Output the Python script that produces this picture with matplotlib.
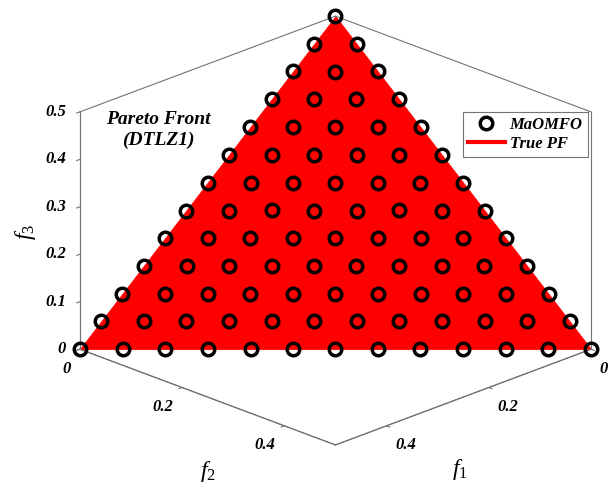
import matplotlib
matplotlib.use("Agg")
import matplotlib.pyplot as plt
from matplotlib.lines import Line2D
from mpl_toolkits.mplot3d.art3d import Poly3DCollection

plt.rcParams['font.family'] = ['Liberation Serif', 'DejaVu Serif']
plt.rcParams['mathtext.fontset'] = 'custom'
plt.rcParams['mathtext.rm'] = 'Liberation Serif'
plt.rcParams['mathtext.it'] = 'Liberation Serif:italic'

# MaOMFO final population on DTLZ1, one line per f3 level
mao_f1 = [0.5, 0.458, 0.417, 0.375, 0.333, 0.292, 0.25, 0.208, 0.167, 0.125, 0.083, 0.042, 0.0,
          0.458, 0.417, 0.375, 0.333, 0.292, 0.25, 0.208, 0.167, 0.125, 0.083, 0.042, 0.0,
          0.417, 0.375, 0.333, 0.292, 0.25, 0.208, 0.167, 0.125, 0.083, 0.042, 0.0,
          0.375, 0.333, 0.292, 0.25, 0.208, 0.167, 0.125, 0.083, 0.042, 0.0,
          0.333, 0.292, 0.25, 0.208, 0.167, 0.125, 0.083, 0.042, 0.0,
          0.292, 0.25, 0.208, 0.167, 0.125, 0.083, 0.042, 0.0,
          0.25, 0.208, 0.167, 0.125, 0.083, 0.042, 0.0,
          0.208, 0.167, 0.125, 0.083, 0.042, 0.0,
          0.167, 0.125, 0.083, 0.042, 0.0,
          0.125, 0.083, 0.042, 0.0,
          0.083, 0.042, 0.0,
          0.042, 0.0,
          0.0]
mao_f2 = [0.0, 0.042, 0.083, 0.125, 0.167, 0.208, 0.25, 0.292, 0.333, 0.375, 0.417, 0.458, 0.5,
          0.0, 0.042, 0.083, 0.125, 0.167, 0.208, 0.25, 0.292, 0.333, 0.375, 0.417, 0.458,
          0.0, 0.042, 0.083, 0.125, 0.167, 0.208, 0.25, 0.292, 0.333, 0.375, 0.417,
          0.0, 0.042, 0.083, 0.125, 0.167, 0.208, 0.25, 0.292, 0.333, 0.375,
          0.0, 0.042, 0.083, 0.125, 0.167, 0.208, 0.25, 0.292, 0.333,
          0.0, 0.042, 0.083, 0.125, 0.167, 0.208, 0.25, 0.292,
          0.0, 0.042, 0.083, 0.125, 0.167, 0.208, 0.25,
          0.0, 0.042, 0.083, 0.125, 0.167, 0.208,
          0.0, 0.042, 0.083, 0.125, 0.167,
          0.0, 0.042, 0.083, 0.125,
          0.0, 0.042, 0.083,
          0.0, 0.042,
          0.0]
mao_f3 = ([0.0] * 13 + [0.042] * 12 + [0.083] * 11 + [0.125] * 10 + [0.167] * 9
          + [0.208] * 8 + [0.25] * 7 + [0.292] * 6 + [0.333] * 5 + [0.375] * 4
          + [0.417] * 3 + [0.458] * 2 + [0.5] * 1)

# corners of the true Pareto front (f1 + f2 + f3 = 0.5)
pf_f1 = [0.5, 0.0, 0.0]
pf_f2 = [0.0, 0.5, 0.0]
pf_f3 = [0.0, 0.0, 0.5]

lim = 0.5
xy_ticks = [0, 0.2, 0.4]
z_ticks = [0, 0.1, 0.2, 0.3, 0.4, 0.5]

fig = plt.figure(figsize=(6.11, 4.93), dpi=100)
# oversized square axes so the 3d artists are not clipped at the box edge
ax = fig.add_subplot(projection='3d', proj_type='ortho', computed_zorder=False)
ax.set_position([-0.0393, -0.1968, 1.1457, 1.4199])
ax.view_init(elev=22, azim=45)
ax.set_box_aspect((1, 1, 0.7076), zoom=0.793)

tri = Poly3DCollection([list(zip(pf_f1, pf_f2, pf_f3))], facecolor='#ff0000',
                       edgecolor='#ff0000', linewidth=0.5, zorder=1)
ax.add_collection3d(tri)

# back edges of the box (the hexagon outline)
edge = dict(color='0.45', lw=0.8, zorder=2)
ax.plot([lim, lim], [0, 0], [0, lim], **edge)
ax.plot([lim, 0], [0, 0], [lim, lim], **edge)
ax.plot([0, 0], [0, lim], [lim, lim], **edge)
ax.plot([0, 0], [lim, lim], [lim, 0], **edge)
ax.plot([0, lim], [lim, lim], [0, 0], **edge)
ax.plot([lim, lim], [lim, 0], [0, 0], **edge)

ax.plot(mao_f1, mao_f2, mao_f3, linestyle='none', marker='o', ms=9, mew=2.5,
        mfc='none', mec='k', zorder=3)

ax.set_xlim(0, lim)
ax.set_ylim(0, lim)
ax.set_zlim(0, lim)
ax.set_xticks(xy_ticks)
ax.set_yticks(xy_ticks)
ax.set_zticks(z_ticks)
ax.set_xticklabels(['0', '0.2', '0.4'])
ax.set_yticklabels(['0', '0.2', '0.4'])
ax.set_zticklabels(['0', '0.1', '0.2', '0.3', '0.4', '0.5'])
ax.grid(False)

tick_font = dict(fontsize=12, fontweight='bold', fontstyle='italic')
# (axis, label pad, horizontal / vertical alignment of the tick labels)
for axis, pad, ha, va in ((ax.xaxis, 1, 'left', 'top'), (ax.yaxis, 1, 'right', 'top'),
                          (ax.zaxis, -1, 'right', 'center')):
    axis.set_pane_color((1, 1, 1, 0))
    axis.line.set_color('0.45')
    axis.line.set_linewidth(0.8)
    axis._axinfo['tick']['inward_factor'] = 0.15
    axis._axinfo['tick']['outward_factor'] = 0.0
    axis.set_tick_params(colors='0.45', width=0.6, labelcolor='k', pad=pad)
    for lbl in axis.get_ticklabels():
        lbl.set(ha=ha, va=va, **tick_font)

# axis titles sit straight below / beside their edges
fig.text(460 / 611, 1 - 470 / 493, '$f_1$', fontsize=17, ha='center', va='center')
fig.text(208 / 611, 1 - 472 / 493, '$f_2$', fontsize=17, ha='center', va='center')
fig.text(25 / 611, 1 - 232 / 493, '$f_3$', fontsize=17, ha='center', va='center',
         rotation=90)

fig.text(158 / 611, 1 - 130 / 493, 'Pareto Front\n(DTLZ1)', ha='center', va='center',
         fontsize=14, fontweight='bold', fontstyle='italic', linespacing=1.3)

handles = [Line2D([], [], linestyle='none', marker='o', ms=9, mew=2.5, mfc='none', mec='k'),
           Line2D([], [], color='#ff0000', lw=3)]
leg = fig.legend(handles, ['MaOMFO', 'True PF'], loc='upper left',
                 bbox_to_anchor=(463 / 611, 1 - 112 / 493), bbox_transform=fig.transFigure,
                 fancybox=False, edgecolor='0.45', framealpha=1, borderpad=0.3,
                 handlelength=2.2, handletextpad=0.3, labelspacing=0.2, borderaxespad=0,
                 prop=dict(family='Liberation Serif', size=12, weight='bold', style='italic'))
leg.get_frame().set_linewidth(0.8)

fig.savefig('out.png', dpi=100)
